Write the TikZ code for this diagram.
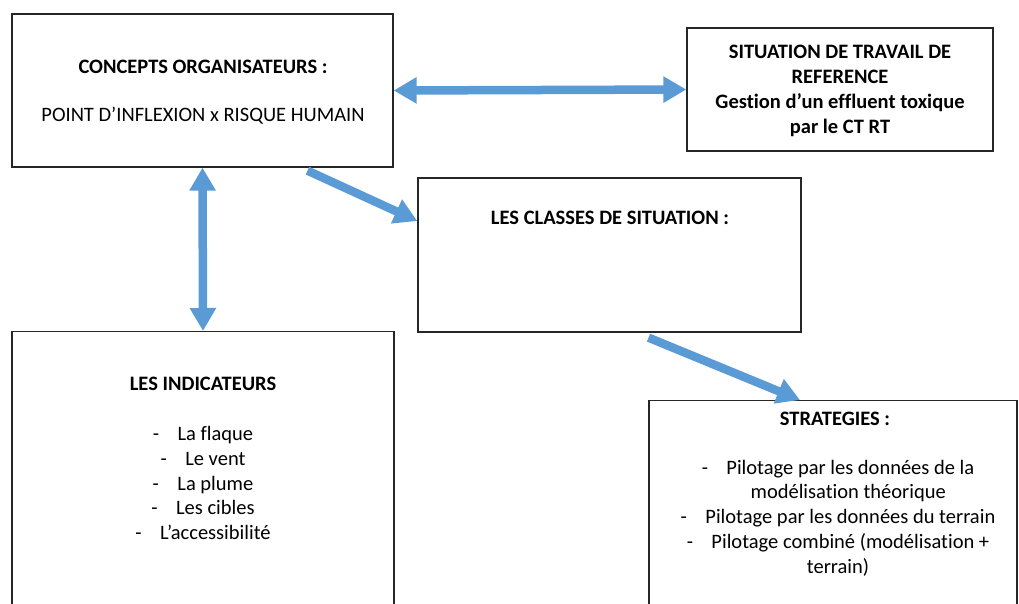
\documentclass[tikz,border=0pt]{standalone}
\usepackage{fontspec}
\setmainfont[Ligatures={NoCommon}]{Carlito}
\usetikzlibrary{arrows.meta}

\definecolor{flecheBleu}{HTML}{5B9BD5}

\begin{document}
\begin{tikzpicture}[
  x=1pt, y=-1pt,
  cadre/.style={draw=black!85, line width=1.3pt, minimum width=#1, inner sep=0pt},
  texte/.style={align=center, inner sep=0pt, font=\fontsize{20.5pt}{24.8pt}\selectfont},
  fleche/.style={line width=8.5pt, flecheBleu, -{Triangle[width=25pt,length=23pt]}},
  doublefleche/.style={line width=8.5pt, flecheBleu, {Triangle[width=25pt,length=23pt]}-{Triangle[width=25pt,length=23pt]}}
]
\clip (0,0) rectangle (1019,603);

% les cadres
\node[cadre=381pt, minimum height=153pt] (concepts) at (202.5,90.5) {};
\node[cadre=306pt, minimum height=123pt] (situation) at (840,89.5) {};
\node[cadre=383pt, minimum height=154pt] (classes) at (609.5,255) {};
\node[cadre=382pt, minimum height=300pt, anchor=north] (indicateurs) at (203,331) {};
\node[cadre=368pt, minimum height=250pt, anchor=north] (strategies) at (833,400) {};

% les textes
\node[texte] (conceptsTxt) at (203,92)
  {\textbf{CONCEPTS ORGANISATEURS :}\\[23pt]POINT D’INFLEXION x RISQUE HUMAIN};
\node[texte, font=\fontsize{20.5pt}{24.8pt}\selectfont\bfseries] (situationTxt) at (840,91)
  {SITUATION DE TRAVAIL DE\\REFERENCE\\Gestion d’un effluent toxique\\par le CT RT};
\node[texte] (classesTxt) at (610,218) {\textbf{LES CLASSES DE SITUATION :}};
\node[texte] (indicTitre) at (203,384) {\textbf{LES INDICATEURS}};
\node[texte] (indicListe) at (203,483)
  {-\hspace{0.9em}La flaque\\-\hspace{0.9em}Le vent\\-\hspace{0.9em}La plume\\
   -\hspace{0.9em}Les cibles\\-\hspace{0.9em}L’accessibilité};
\node[texte] (stratTitre) at (835,419) {\textbf{STRATEGIES :}};
\node[texte] (stratListe) at (838,518)
  {-\hspace{0.9em}Pilotage par les données de la\\
   \hspace{1em}modélisation théorique\\
   -\hspace{0.9em}Pilotage par les données du terrain\\
   -\hspace{0.9em}Pilotage combiné (modélisation +\\
   terrain)};

% les fleches
\draw[doublefleche] (concepts.east) -- (situation.west);
\draw[doublefleche] (concepts.south) -- (indicateurs.north);
\draw[fleche] ([shift={(105,3)}]concepts.south) -- ([shift={(0,-34)}]classes.west);
\draw[fleche] ([shift={(39,5)}]classes.south) -- ([shift={(-33,0)}]strategies.north);
\end{tikzpicture}
\end{document}
